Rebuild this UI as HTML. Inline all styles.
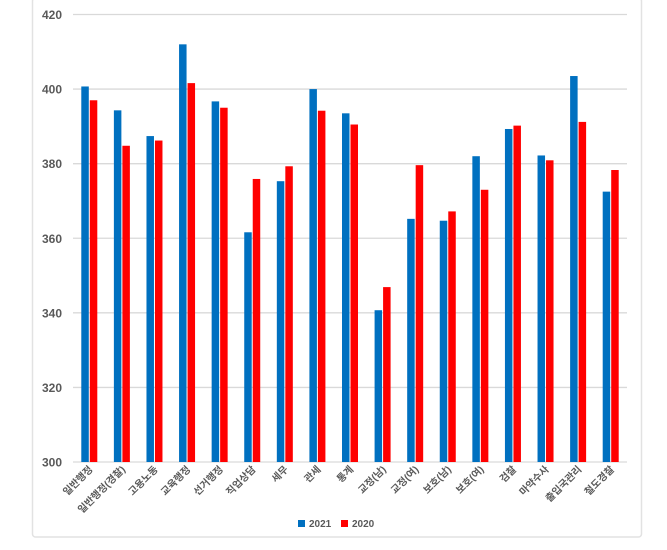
<!DOCTYPE html>
<html><head><meta charset="utf-8"><style>
body{margin:0;background:#fff;width:667px;height:545px;overflow:hidden}
text{font-family:"Liberation Sans","Noto Sans CJK KR",sans-serif}
</style></head><body>
<svg id="chart" width="667" height="545" xmlns="http://www.w3.org/2000/svg">
<rect x="32.5" y="-2" width="609" height="539" fill="#fff" stroke="#e2e2e2" stroke-width="1.5" rx="3"/>
<g id="grid"></g><g id="bars"></g><g id="xlabels"></g>
<g>
<rect x="298" y="520" width="7" height="7" fill="#0070c0"/>
<text x="309" y="527" font-size="10" font-weight="bold" fill="#595959">2021</text>
<rect x="341" y="520" width="7" height="7" fill="#ff0000"/>
<text x="352" y="527" font-size="10" font-weight="bold" fill="#595959">2020</text>
</g>
</svg>
<script>
const categories=["일반행정","일반행정(경찰)","고용노동","교육행정","선거행정","직업상담","세무","관세","통계","교정(남)","교정(여)","보호(남)","보호(여)","검찰","마약수사","출입국관리","철도경찰"];
const series2021=[400.7,394.3,387.4,412,396.7,361.6,375.3,400,393.5,340.7,365.2,364.7,382,389.3,382.2,403.5,372.5];
const series2020=[397,384.8,386.2,401.6,395,375.9,379.3,394.2,390.5,346.9,379.6,367.2,373,390.2,380.9,391.2,378.3];
const yTicks=[300,320,340,360,380,400,420];
const NS="http://www.w3.org/2000/svg";
const x0=73,x1=627,yTop=14.5,yBot=462,yMin=300,yMax=420;
const bw=(x1-x0)/categories.length;
function y(v){return yBot-(v-yMin)/(yMax-yMin)*(yBot-yTop);}
function xc(i){return x0+bw*(i+0.5);}
function mk(tag,attrs,parent){const e=document.createElementNS(NS,tag);for(const k in attrs)e.setAttribute(k,attrs[k]);parent.appendChild(e);return e;}
const grid=document.getElementById('grid');
yTicks.forEach(t=>{
 const l=mk('line',{x1:x0,x2:x1,y1:y(t),y2:y(t),stroke:'#d9d9d9','stroke-width':1.3},grid);
 
 
 const tx=mk('text',{x:62,y:y(t)+4.5,'text-anchor':'end','font-size':12,'font-weight':'bold',fill:'#595959'},grid);
 tx.textContent=t;
 
 
});
const bars=document.getElementById('bars'),xl=document.getElementById('xlabels');
categories.forEach((c,i)=>{
 const cx=xc(i);
 const b1=mk('rect',{x:cx-8,y:y(series2021[i]),width:7.5,height:yBot-y(series2021[i]),fill:'#0070c0'},bars);
 
 
 const b2=mk('rect',{x:cx+0.5,y:y(series2020[i]),width:7.5,height:yBot-y(series2020[i]),fill:'#ff0000'},bars);
 
 
 const t=mk('text',{x:cx+4,y:470,'text-anchor':'end','font-size':10,'font-weight':'bold',fill:'#595959',transform:`rotate(-45 ${cx+4} 470)`},xl);
 t.textContent=c;
 
 
});
</script>
</body></html>
